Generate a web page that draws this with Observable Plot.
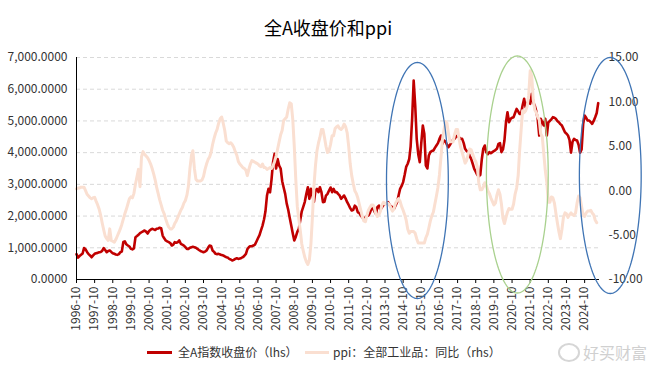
<!DOCTYPE html>
<html>
<head>
<meta charset="utf-8">
<script src="https://cdn.jsdelivr.net/npm/d3@7"></script>
<script src="https://cdn.jsdelivr.net/npm/@observablehq/plot@0.6"></script>
<style>
  body { margin: 0; background: #fff; }
  #wrap { position: relative; width: 656px; height: 375px; overflow: hidden;
          font-family: "Microsoft YaHei", "Noto Sans CJK SC", sans-serif; color: #333; }
  #title { position: absolute; top: 15px; left: 0; width: 656px; text-align: center;
           font-size: 18px; line-height: 24px; color: #000; }
  .lg { position: absolute; font-size: 12px; line-height: 16px; top: 344px; color: #333; white-space: nowrap; }
  .sw { position: absolute; height: 3px; top: 351px; }
  #wm { position: absolute; left: 583px; top: 342px; font-size: 16px; line-height: 20px; color: #d0d0d0; white-space: nowrap; }
  #wmi { position: absolute; left: 558px; top: 343px; width: 18px; height: 15px; border: 2px solid #d6d6d6; border-radius: 50%; }
  #chart { position: absolute; left: 0; top: 0; }
</style>
</head>
<body>
<div id="wrap">
  <div id="chart"></div>
  <div id="title">全A收盘价和ppi</div>
  <div class="sw" style="left:147px;width:25px;background:#C00000"></div>
  <div class="lg" style="left:178px">全A指数收盘价（lhs）</div>
  <div class="sw" style="left:305px;width:24px;background:#FADFD1"></div>
  <div class="lg" style="left:333px">ppi：全部工业品：同比（rhs）</div>
  <div id="wmi"></div>
  <div id="wm">好买财富</div>
</div>
<script>
// ---------- data (monthly, starting 1996-10) ----------
const firstMonth = "1996-10";

// 全A指数收盘价 (left axis)
const closeValues = [
  800, 690, 740,
  780, 820, 990, 950, 870, 800, 760, 700, 760, 810, 830, 840,
  860, 870, 900, 990, 930, 860, 900, 914, 870, 830, 810, 790,
  778, 800, 860, 880, 1180, 1200, 1110, 1072, 1040, 967, 950, 980,
  1334, 1370, 1410, 1460, 1490, 1520, 1545, 1510, 1450, 1530, 1570, 1597,
  1580, 1560, 1597, 1610, 1630, 1618, 1387, 1300, 1230, 1200, 1177, 1150,
  1072, 1100, 1177, 1160, 1177, 1230, 1125, 1100, 1072, 1020, 967, 967,
  1000, 1019, 1030, 1019, 1000, 967, 930, 900, 880, 861, 880, 914,
  1000, 1072, 1060, 914, 870, 809, 800, 809, 790, 770, 757, 730,
  703, 690, 651, 630, 599, 620, 651, 670, 651, 660, 680, 703,
  750, 809, 950, 1019, 1050, 1050, 1072, 1100, 1200, 1300, 1400, 1550,
  1700, 1900, 2150, 2650, 2860, 2750, 3150, 3700, 3963, 3500, 3800, 3595,
  3500, 3100, 2900, 2700, 2400, 2200, 1950, 1700, 1450, 1230, 1350, 1500,
  1600, 1900, 2150, 2300, 2450, 2700, 2910, 2544, 2860, 2648, 2450, 2806,
  2858, 2753, 2910, 2753, 2438, 2450, 2648, 2700, 2806, 2900, 2753, 2858,
  2753, 2760, 2700, 2650, 2544, 2600, 2648, 2550, 2438, 2350, 2250, 2175,
  2200, 2330, 2280, 2122, 2100, 2018, 1960, 1913, 1950, 2000, 2018, 2100,
  2228, 2250, 2150, 2070, 2280, 2333, 2200, 2280, 2350, 2386, 2400, 2438,
  2350, 2300, 2280, 2228, 2333, 2438, 2650, 2858, 2950, 3070, 3300, 3550,
  3650, 3800, 4200, 5100, 6274, 5486, 4436, 3950, 3700, 4300, 4856, 4600,
  3600, 3500, 3910, 4015, 4050, 4068, 4150, 4225, 4300, 4436, 4540, 4278,
  4383, 4350, 4250, 4172, 4250, 4330, 4400, 4436, 4500, 4540, 4480, 4436,
  4436, 4300, 4120, 4050, 4015, 3900, 3805, 3650, 3490, 3400, 3300, 3250,
  3300, 3800, 4120, 4225, 4015, 3950, 4015, 3980, 4015, 4050, 4080, 4120,
  4278, 4300, 4015, 4100, 4383, 4960, 5275, 4960, 5066, 5100, 5118, 5250,
  5380, 5300, 5224, 5224, 5486, 5697, 5433, 5550, 5644, 5539, 5855, 5591,
  5486, 5300, 5066, 4540, 5066, 4960, 4856, 5066, 4540, 4960, 5000, 5050,
  5118, 5100, 5066, 5000, 4960, 4900, 4856, 4750, 4645, 4600, 4540, 4400,
  4000, 4350, 4436, 4400, 4383, 4250, 4000, 4100, 4900, 5171, 5100, 5013,
  5013, 4960, 4909, 5000, 5118, 5250, 5560
];

// ppi：全部工业品：同比 (right axis, %)
const ppiValues = [
  0.2, 0.3, 0.3,
  0.4, 0.4, 0.4, 0.0, -0.4, -0.6, -0.8, -0.9, -0.8, -0.75, -1.2, -1.6,
  -2.1, -2.8, -3.6, -4.4, -5.1, -5.4, -5.6, -4.3, -5.6, -5.7, -5.8, -5.5,
  -5.1, -4.7, -4.3, -3.8, -3.2, -2.6, -2.1, -1.5, -0.9, -0.7, -0.8, -0.3,
  0.75, 1.6, 2.4, 0.45, 3.8, 4.4, 4.1, 3.9, 3.7, 3.4, 3.0, 2.5,
  1.9, 1.2, 0.4, -0.3, -1.0, -1.6, -2.2, -2.6, -3.2, -3.7, -4.1, -4.3,
  -4.3, -4.1, -3.7, -3.4, -3.0, -2.6, -2.2, -1.9, -1.4, -1.1, -0.5, 0.5,
  2.5, 4.0, 4.5, 2.5, 1.3, 1.1, 1.1, 1.1, 1.2, 1.6, 2.4, 3.0,
  3.5, 3.8, 4.3, 5.2, 5.9, 6.5, 6.9, 7.6, 8.1, 8.3, 7.6, 6.8,
  5.6, 5.4, 5.3, 5.4, 5.2, 4.9, 4.4, 4.0, 3.3, 3.0, 2.8, 2.6,
  2.5, 2.3, 1.7, 2.4, 3.0, 3.4, 3.3, 3.2, 3.1, 3.0, 2.8, 2.7,
  3.0, 2.6, 2.6, 2.4, 2.5, 2.6, 2.5, 2.8, 3.3, 3.9, 4.7, 5.5,
  6.3, 6.8, 7.9, 8.1, 8.3, 9.2, 9.9, 9.8, 8.0, 5.0, 1.2, -1.8,
  -3.2, -4.6, -6.0, -6.8, -7.5, -8.0, -8.3, -7.8, -6.0, -3.0, 0.5, 2.8,
  4.5, 5.4, 6.0, 6.9, 6.9, 6.0, 5.0, 4.3, 4.5, 5.2, 6.2, 6.2,
  7.0, 7.2, 7.3, 7.0, 6.9, 7.1, 7.5, 7.2, 6.5, 5.0, 3.0, 1.7,
  0.8, 0.0, -0.3, -0.8, -1.5, -2.2, -2.9, -3.4, -3.5, -2.8, -2.2, -1.9,
  -1.6, -1.6, -1.9, -2.6, -2.9, -2.7, -2.3, -1.6, -1.3, -1.5, -1.4, -1.4,
  -1.6, -2.0, -2.3, -2.0, -1.4, -1.1, -0.9, -1.2, -1.8, -2.2, -2.7, -3.3,
  -4.3, -4.8, -4.6, -4.6, -4.6, -4.8, -5.4, -5.9, -5.9, -5.9, -5.9, -5.9,
  -5.3, -4.9, -4.2, -3.4, -2.8, -2.4, -1.5, -0.6, 0.4, 1.8, 3.8, 5.8,
  6.9, 7.8, 7.6, 6.4, 5.5, 5.5, 5.5, 6.3, 6.9, 6.9, 5.8, 4.9,
  4.3, 3.7, 3.1, 3.4, 4.1, 4.7, 4.6, 4.1, 3.6, 3.3, 2.7, 0.9,
  0.1, 0.1, 0.4, 0.9, 0.6, 0.0, -0.3, -0.8, -1.2, -1.6, -1.4, -0.5,
  0.1, -0.4, -1.5, -3.1, -3.7, -3.0, -2.4, -2.0, -2.1, -2.1, -1.5, -0.4,
  0.3, 1.7, 4.4, 6.8, 9.0, 8.8, 9.0, 9.5, 10.7, 13.5, 12.9, 10.3,
  9.1, 8.8, 8.3, 8.0, 6.4, 6.1, 4.2, 2.3, 0.9, -1.3, -1.3, -0.7,
  -0.8, -1.4, -2.5, -3.6, -4.6, -5.4, -4.4, -3.0, -2.5, -2.6, -3.0, -2.7,
  -2.5, -2.7, -2.8, -2.5, -1.4, -0.6, -0.8, -1.8, -2.8, -2.9, -2.5, -2.3,
  -2.3, -2.2, -2.5, -2.7, -3.3, -3.6
];

// axes
const leftTicks = [0, 1000, 2000, 3000, 4000, 5000, 6000, 7000];
const rightTicks = [-10, -5, 0, 5, 10, 15];
const xTickYears = d3.range(1996, 2025); // labelled "YYYY-10"
const xEnd = "2025-07-27";

// annotation ellipses: centre date, centre (lhs units), half-width (days), half-height (lhs units)
const ellipseCenters = ["2015-07-15", "2021-01-15", "2026-03-01"];
const ellipseCenterValues = [3121, 3311, 3279];
const ellipseHalfWidthDays = [622, 622, 622];
const ellipseHalfHeights = [3721, 3737, 3721];
const ellipseColors = ["#3F74B4", "#A9D18E", "#3F74B4"];

// ---------- build ----------
const start = d3.utcParse("%Y-%m")(firstMonth);
const closeData = closeValues.map((v, i) => ({date: d3.utcMonth.offset(start, i), v}));
const ppiData = ppiValues.map((p, i) => ({date: d3.utcMonth.offset(start, i), p}));
const xTicks = xTickYears.map(y => new Date(Date.UTC(y, 9, 1)));
const xDomain = [start, d3.utcParse("%Y-%m-%d")(xEnd)];

// right axis (-10..15) shares the left axis (0..7000) range
const toLeft = p => (p + 10) * 280;
const fromLeft = v => v / 280 - 10;

const loc = d3.formatLocale({decimal: ".", thousands: ",", grouping: [3], currency: ["", ""], minus: "-"});
const fmtLeft = loc.format(",.4f");
const fmtRight = loc.format(".2f");

const ellipseMarks = ellipseCenters.map((c, k) => {
  const cx = d3.utcParse("%Y-%m-%d")(c).getTime();
  const pts = d3.range(0, 145).map(i => {
    const a = (i / 144) * 2 * Math.PI;
    return {
      date: new Date(cx + ellipseHalfWidthDays[k] * 86400000 * Math.cos(a)),
      v: ellipseCenterValues[k] + ellipseHalfHeights[k] * Math.sin(a)
    };
  });
  return Plot.line(pts, {x: "date", y: "v", stroke: ellipseColors[k], strokeWidth: 1.3});
});

const chart = Plot.plot({
  width: 656,
  height: 375,
  marginTop: 57,
  marginBottom: 96,
  marginLeft: 76,
  marginRight: 57,
  style: {fontFamily: '"Microsoft YaHei", "Noto Sans CJK SC", sans-serif', fontSize: "12px", color: "#333", background: "transparent", overflow: "visible"},
  x: {type: "utc", domain: xDomain, label: null},
  y: {domain: [0, 7000], label: null},
  marks: [
    Plot.gridY(leftTicks.filter(d => d > 0), {stroke: "#d9d9d9", strokeOpacity: 1, strokeDasharray: "4,3"}),
    Plot.line(closeData, {x: "date", y: "v", stroke: "#C00000", strokeWidth: 2.6}),
    Plot.line(ppiData, {x: "date", y: d => toLeft(d.p), stroke: "#FADFD1", strokeWidth: 3}),
    Plot.ruleY([0], {stroke: "#000", strokeWidth: 1}),
    Plot.ruleX([xDomain[0]], {stroke: "#000", strokeWidth: 1}),
    Plot.axisX(xTicks, {label: null, tickSize: 4, tickPadding: 3, tickRotate: -90, tickFormat: d3.utcFormat("%Y-%m"), stroke: "#000", fill: "#333", fontSize: 12}),
    Plot.axisY(leftTicks, {label: null, anchor: "left", tickSize: 0, tickPadding: 9, tickFormat: fmtLeft, fill: "#333", fontSize: 12}),
    Plot.axisY(rightTicks.map(toLeft), {label: null, anchor: "right", tickSize: 0, tickPadding: 9, tickFormat: d => fmtRight(Math.round(fromLeft(d))), fill: "#333", fontSize: 12}),
    ...ellipseMarks
  ]
});
document.getElementById("chart").appendChild(chart);
</script>
</body>
</html>
